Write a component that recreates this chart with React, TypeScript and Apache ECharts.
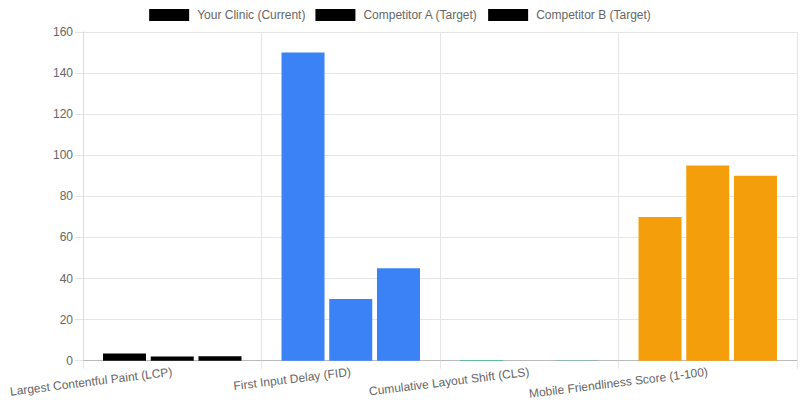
import { useEffect, useRef } from 'react';
import * as echarts from 'echarts';

const categories = [
  'Largest Contentful Paint (LCP)',
  'First Input Delay (FID)',
  'Cumulative Layout Shift (CLS)',
  'Mobile Friendliness Score (1-100)'
];
const seriesNames = ['Your Clinic (Current)', 'Competitor A (Target)', 'Competitor B (Target)'];
const yourClinic = [3.5, 150, 0.25, 70];
const competitorA = [2.0, 30, 0.05, 95];
const competitorB = [2.2, 45, 0.1, 90];
const categoryColors = ['#000000', '#3b82f6', '#10b981', '#f59e0b'];

export default function App() {
  const ref = useRef<HTMLDivElement>(null);

  useEffect(() => {
    document.body.style.margin = '0';
    if (!ref.current) return;
    const chart = echarts.init(ref.current, null, { renderer: 'svg' });
    const font = 'Liberation Sans, Arial, sans-serif';
    const makeSeries = (name: string, values: number[]) => ({
      name,
      type: 'bar',
      barWidth: 43,
      barGap: '11%',
      itemStyle: { color: '#000' },
      data: values.map((v, i) => ({ value: v, itemStyle: { color: categoryColors[i] } }))
    });
    chart.setOption({
      animation: false,
      textStyle: { fontFamily: font },
      legend: {
        top: 4,
        left: 'center',
        itemWidth: 40,
        itemHeight: 12,
        itemGap: 10,
        icon: 'rect',
        data: seriesNames.map((n) => ({ name: n, itemStyle: { color: '#000' } })),
        textStyle: { color: '#666', fontSize: 12, fontFamily: font, padding: [0, 0, 0, 3] }
      },
      grid: { left: 83, right: 3, top: 32, bottom: 39 },
      xAxis: {
        type: 'category',
        data: categories,
        axisLine: { lineStyle: { color: '#bbb' } },
        axisTick: { show: true, length: 8, lineStyle: { color: '#e5e5e5' } },
        splitLine: { show: true, lineStyle: { color: '#e5e5e5' } },
        axisLabel: {
          rotate: 7,
          color: '#666',
          fontSize: 12,
          margin: 11,
          interval: 0,
          fontFamily: font
        }
      },
      yAxis: {
        type: 'value',
        min: 0,
        max: 160,
        interval: 20,
        axisLine: { show: true, lineStyle: { color: '#ddd' } },
        axisTick: { show: true, length: 8, lineStyle: { color: '#e5e5e5' } },
        splitLine: { lineStyle: { color: '#e5e5e5' } },
        axisLabel: { color: '#666', fontSize: 12, margin: 10, fontFamily: font }
      },
      series: [
        makeSeries(seriesNames[0], yourClinic),
        makeSeries(seriesNames[1], competitorA),
        makeSeries(seriesNames[2], competitorB)
      ]
    });
    return () => {
      chart.dispose();
    };
  }, []);

  return <div ref={ref} style={{ width: 800, height: 400 }} />;
}
